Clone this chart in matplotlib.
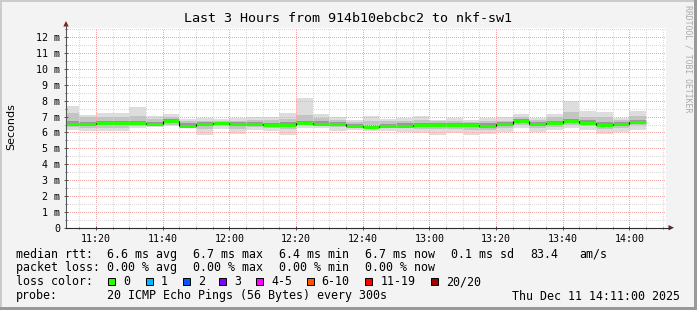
import matplotlib
matplotlib.use("Agg")
import matplotlib.pyplot as plt
from matplotlib.patches import Rectangle, Polygon
from matplotlib.ticker import MultipleLocator, FuncFormatter
import numpy as np

# 5 minute bins, first bin starts 11:10 (minutes since midnight)
t_start = 11 * 60 + 10
t_view = (11 * 60 + 11, 14 * 60 + 11)

# median rtt per bin (ms)
median = [6.53, 6.53, 6.58, 6.58, 6.58, 6.53, 6.74, 6.43, 6.53, 6.58,
          6.53, 6.51, 6.47, 6.47, 6.62, 6.56, 6.55, 6.43, 6.35, 6.43,
          6.43, 6.49, 6.49, 6.49, 6.49, 6.43, 6.55, 6.70, 6.53, 6.60,
          6.70, 6.62, 6.47, 6.55, 6.64]
# smoke: min / max of the 20 pings
smoke_max = [7.67, 7.10, 7.20, 7.20, 7.60, 7.06, 7.16, 6.85, 6.90, 6.85,
             6.90, 7.00, 6.95, 7.20, 8.15, 7.16, 6.95, 6.80, 7.04, 6.85,
             6.90, 7.06, 6.80, 6.90, 6.80, 6.92, 7.00, 7.16, 6.90, 7.16,
             7.98, 7.35, 7.27, 6.92, 7.35]
smoke_min = [6.15, 6.11, 6.09, 6.10, 6.26, 6.34, 6.39, 6.26, 5.84, 6.20,
             5.88, 6.15, 6.08, 5.84, 6.27, 6.30, 6.10, 6.15, 6.09, 6.10,
             6.05, 5.95, 5.84, 5.95, 5.84, 5.88, 6.05, 6.30, 6.00, 6.15,
             6.26, 6.15, 5.88, 6.00, 6.15]
# middle pings
mid_hi = [7.25, 6.95, 6.95, 6.95, 7.05, 6.85, 7.00, 6.75, 6.75, 6.75,
          6.75, 6.80, 6.80, 6.85, 7.10, 6.90, 6.80, 6.65, 6.75, 6.70,
          6.70, 6.80, 6.70, 6.70, 6.65, 6.70, 6.75, 6.95, 6.80, 6.95,
          7.30, 7.00, 6.95, 6.80, 7.05]
mid_lo = [6.35, 6.30, 6.30, 6.30, 6.40, 6.42, 6.50, 6.35, 6.20, 6.38,
          6.20, 6.35, 6.30, 6.20, 6.45, 6.42, 6.35, 6.30, 6.22, 6.28,
          6.25, 6.20, 6.20, 6.22, 6.15, 6.15, 6.30, 6.45, 6.25, 6.35,
          6.45, 6.38, 6.20, 6.30, 6.40]
inner_hi = [6.70, 6.68, 6.72, 6.72, 6.72, 6.65, 6.85, 6.58, 6.65, 6.68,
            6.65, 6.65, 6.62, 6.65, 6.75, 6.70, 6.68, 6.55, 6.50, 6.55,
            6.58, 6.62, 6.62, 6.60, 6.60, 6.58, 6.65, 6.82, 6.68, 6.75,
            6.85, 6.78, 6.65, 6.68, 6.78]
inner_lo = [6.45, 6.42, 6.45, 6.45, 6.48, 6.48, 6.62, 6.40, 6.40, 6.48,
            6.40, 6.42, 6.38, 6.35, 6.55, 6.50, 6.45, 6.38, 6.28, 6.35,
            6.35, 6.35, 6.32, 6.38, 6.32, 6.30, 6.42, 6.58, 6.40, 6.48,
            6.58, 6.50, 6.35, 6.42, 6.52]

loss_labels = ["0", "1", "2", "3", "4-5", "6-10", "11-19", "20/20"]
loss_colors = ["#26ff00", "#00b8ff", "#0059ff", "#7e00ff", "#ff00ff",
               "#ff5500", "#ff0000", "#a10000"]

title = "Last 3 Hours from 914b10ebcbc2 to nkf-sw1"
rtt_stats = ["6.6 ms avg", "6.7 ms max", "6.4 ms min", "6.7 ms now",
             "0.1 ms sd", "83.4", "am/s"]
loss_stats = ["0.00 % avg", "0.00 % max", "0.00 % min", "0.00 % now"]
probe = "20 ICMP Echo Pings (56 Bytes) every 300s"
stamp = "Thu Dec 11 14:11:00 2025"

W, H = 697, 310
fig = plt.figure(figsize=(W / 100, H / 100), dpi=100, facecolor="#f3f3f3")
mono = "DejaVu Sans Mono"

px_left, px_right, px_top, px_bot = 66, 666, 27.7, 227.7
ax = fig.add_axes([px_left / W, (H - px_bot) / H,
                   (px_right - px_left) / W, (px_bot - px_top) / H])
ax.set_facecolor("white")
for s in ax.spines.values():
    s.set_visible(False)

x = t_start + 5 * np.arange(len(median))
med = np.array(median)
for lo, hi, col in [(smoke_min, smoke_max, "#dddddd"),
                    (mid_lo, mid_hi, "#c4c4c4"),
                    (inner_lo, inner_hi, "#999999")]:
    lo = np.array(lo)
    ax.bar(x, np.array(hi) - lo, bottom=lo, width=5, align="edge",
           color=col, linewidth=0, zorder=1)
ax.hlines(med, x, x + 5, color=loss_colors[0], lw=2.2, zorder=4)
ax.vlines(x[1:], med[:-1], med[1:], color="black", lw=0.8, zorder=4)

ax.set_xlim(*t_view)
ax.set_ylim(0, 12.6)
ax.xaxis.set_major_locator(MultipleLocator(20))
ax.xaxis.set_minor_locator(MultipleLocator(5))
ax.yaxis.set_major_locator(MultipleLocator(1))
ax.yaxis.set_minor_locator(MultipleLocator(0.5))
ax.xaxis.set_major_formatter(FuncFormatter(lambda v, p: "%02d:%02d" % (v // 60, v % 60)))
ax.yaxis.set_major_formatter(FuncFormatter(lambda v, p: "0" if v == 0 else "%d m" % v))
ax.set_axisbelow(False)
ax.grid(True, which="major", color="#f4aaaa", lw=0.72, ls=(0, (1, 1.5)),
        antialiased=False, zorder=3)
ax.grid(True, which="minor", color="#d9d9d9", lw=0.72, ls=(0, (1, 1.5)),
        antialiased=False, zorder=3)
ax.tick_params(which="both", direction="inout", color="#555555", width=0.7)
ax.tick_params(which="major", length=3)
ax.tick_params(which="minor", length=2)
ax.tick_params(axis="y", pad=2.6, labelsize=7.2)
ax.tick_params(axis="x", pad=3.2, labelsize=7.2)
for lab in ax.get_xticklabels() + ax.get_yticklabels():
    lab.set_family(mono)

# overlay in pixel coordinates
ov = fig.add_axes([0, 0, 1, 1], zorder=5)
ov.set_xlim(0, W)
ov.set_ylim(H, 0)
ov.axis("off")
ov.patch.set_alpha(0)

ov.add_patch(Rectangle((0, 0), W, 2, color="#cbcbcb", lw=0))
ov.add_patch(Rectangle((0, 0), 2, H, color="#cbcbcb", lw=0))
ov.add_patch(Rectangle((0, H - 3), W, 3, color="#999999", lw=0))
ov.add_patch(Rectangle((W - 3, 0), 3, H, color="#999999", lw=0))

axis_col, arrow_col = "#2c2c2c", "#7f1f1f"
ov.plot([px_left, px_left], [px_bot, 25], color="#555555", lw=0.8)
ov.plot([px_left, 670], [px_bot, px_bot], color=axis_col, lw=0.8)
ov.add_patch(Polygon([(63.3, 26.5), (68.7, 26.5), (66, 21)], color=arrow_col, lw=0))
ov.add_patch(Polygon([(668.5, 225), (668.5, 230.4), (674, px_bot)], color=arrow_col, lw=0))

ov.text(348, 19, title, family=mono, fontsize=9.6, ha="center", va="center")
ov.text(11, 127, "Seconds", fontsize=8, rotation=90, ha="center", va="center")
ov.text(688, 5, "RRDTOOL / TOBI OETIKER", family=mono, fontsize=5.9,
        rotation=270, ha="center", va="top", color="#aaaaaa")

fs = 8.4
rows = [254.3, 267.7, 281.7, 296]
ov.text(16, rows[0], "median rtt:", family=mono, fontsize=fs, va="center")
for xp, s in zip([107.3, 193.3, 279.3, 365.3, 451, 530, 579.3], rtt_stats):
    ov.text(xp, rows[0], s, family=mono, fontsize=fs, va="center")
ov.text(16, rows[1], "packet loss:", family=mono, fontsize=fs, va="center")
for xp, s in zip([107.3, 193.3, 279.3, 365.3], loss_stats):
    ov.text(xp, rows[1], s, family=mono, fontsize=fs, va="center")
ov.text(16, rows[2], "loss color:", family=mono, fontsize=fs, va="center")
for xp, lab, col in zip([108.3, 145.7, 182.7, 219.3, 256, 306.7, 365.3, 430.7],
                        loss_labels, loss_colors):
    ov.add_patch(Rectangle((xp, rows[2] - 3.6), 7, 7, facecolor=col,
                           edgecolor="black", lw=0.7))
    ov.text(xp + 15, rows[2], lab, family=mono, fontsize=fs, va="center")
ov.text(16, rows[3], "probe:", family=mono, fontsize=fs, va="center")
ov.text(107.3, rows[3], probe, family=mono, fontsize=fs, va="center")
ov.text(680, rows[3], stamp, family=mono, fontsize=fs, va="center", ha="right")

fig.savefig("out.png", dpi=100, facecolor=fig.get_facecolor())
